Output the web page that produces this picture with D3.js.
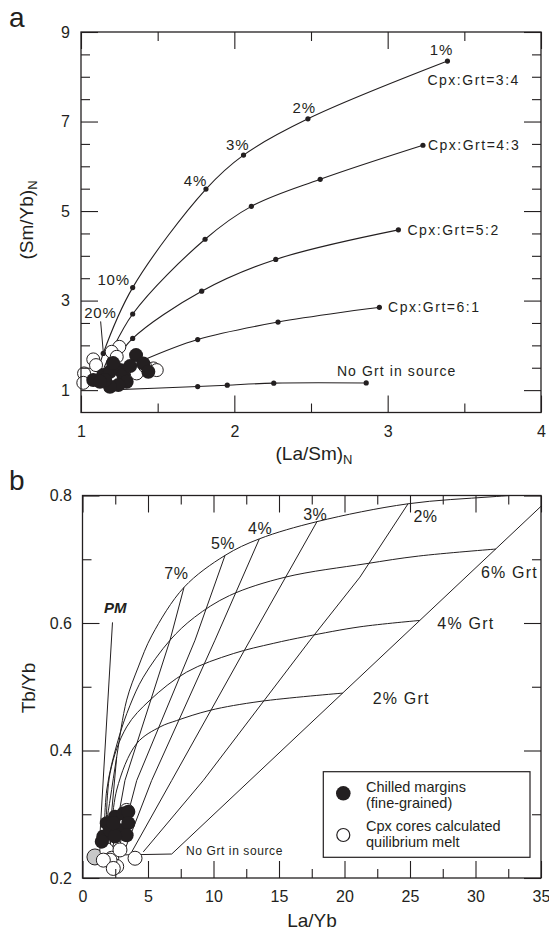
<!DOCTYPE html>
<html><head><meta charset="utf-8">
<script src="https://cdn.jsdelivr.net/npm/d3@7/dist/d3.min.js"></script>
<style>html,body{margin:0;padding:0;background:#fff;}svg{display:block;}</style>
</head><body>
<script>
// ===== Panel a: (La/Sm)N vs (Sm/Yb)N =====
const aXTicks = [1, 2, 3, 4];
const aXMinor = [1.5, 2.5, 3.5];
const aYTicks = [1, 3, 5, 7, 9];
const aYMinor = [1.5, 2, 2.5, 3.5, 4, 4.5, 5.5, 6, 6.5, 7.5, 8, 8.5];
const aCurveNames = ["Cpx:Grt=3:4", "Cpx:Grt=4:3", "Cpx:Grt=5:2", "Cpx:Grt=6:1", "No Grt in source"];
const aMeltLabels = ["20%", "10%", "4%", "3%", "2%", "1%"];
// hidden start of each model curve (inside the sample cluster)
const aStarts = [[1.11, 1.40], [1.15, 1.50], [1.22, 1.62], [1.40, 1.66], [1.15, 1.00]];
const aCpx34 = [[1.145, 1.82], [1.337, 3.29], [1.815, 5.49], [2.06, 6.25], [2.48, 7.06], [3.39, 8.35]];
const aCpx43 = [[1.337, 2.70], [1.809, 4.37], [2.111, 5.105], [2.56, 5.71], [3.23, 6.47]];
const aCpx52 = [[1.337, 2.155], [1.787, 3.21], [2.27, 3.92], [3.07, 4.58]];
const aCpx61 = [[1.761, 2.13], [2.285, 2.52], [2.946, 2.85]];
const aNoGrt = [[1.761, 1.08], [1.954, 1.11], [2.257, 1.156], [2.86, 1.16]];
const aOpen = [[1.020, 1.373], [1.015, 1.163], [1.080, 1.686], [1.098, 1.559], [1.250, 1.967], [1.200, 1.856],
  [1.233, 1.744], [1.363, 1.373], [1.472, 1.485], [1.494, 1.447], [1.417, 1.536]];
const aFilled = [[1.359, 1.782], [1.406, 1.597], [1.439, 1.409], [1.080, 1.224], [1.145, 1.335], [1.189, 1.409],
  [1.254, 1.447], [1.276, 1.335], [1.298, 1.185], [1.243, 1.112], [1.189, 1.074], [1.157, 1.224], [1.124, 1.185],
  [1.209, 1.604], [1.320, 1.536]];

// ===== Panel b: La/Yb vs Tb/Yb =====
const bXTicks = [0, 5, 10, 15, 20, 25, 30, 35];
const bXMinor = [2.5, 7.5, 12.5, 17.5, 22.5, 27.5, 32.5];
const bYTicks = [0.2, 0.4, 0.6, 0.8];
const bYMinor = [0.3, 0.5, 0.7];
const bGrtLabels = ["6% Grt", "4% Grt", "2% Grt"];
const bMeltLabels = ["7%", "5%", "4%", "3%", "2%"];
const bEnvelope = [[1.49, 0.244], [2.10, 0.322], [2.61, 0.390], [3.37, 0.479], [4.26, 0.531], [5.31, 0.581], [7.75, 0.656],
  [10.88, 0.706], [13.50, 0.732], [17.90, 0.759], [24.85, 0.787], [31.26, 0.798], [36.45, 0.805]];
const bGrt6 = [[1.64, 0.244], [1.85, 0.338], [2.71, 0.416], [3.63, 0.471], [4.64, 0.515], [6.68, 0.573], [8.55, 0.609],
  [11.22, 0.643], [15.50, 0.672], [21.64, 0.693], [25.65, 0.705], [31.56, 0.716]];
const bGrt4 = [[1.79, 0.241], [2.10, 0.364], [3.37, 0.437], [5.15, 0.479], [7.95, 0.523], [11.51, 0.552], [14.56, 0.568],
  [17.10, 0.579], [21.18, 0.594], [25.75, 0.604]];
const bGrt2 = [[2.10, 0.241], [2.61, 0.338], [4.14, 0.411], [5.92, 0.437], [7.19, 0.447], [9.73, 0.463], [13.55, 0.477], [19.86, 0.490]];
const bNoGrt = [[2.48, 0.236], [6.81, 0.2376]];
const bF1 = [[6.81, 0.2376], [35.05, 0.784], [36.45, 0.811]];
const bF2 = [[4.64, 0.241], [9.22, 0.353], [17.37, 0.573], [21.18, 0.672], [24.85, 0.787]];
const bF3 = [[3.76, 0.241], [6.81, 0.353], [12.79, 0.573], [17.90, 0.759]];
const bF4 = [[3.17, 0.241], [5.28, 0.353], [10.11, 0.573], [13.50, 0.732]];
const bF5 = [[2.71, 0.241], [4.14, 0.353], [8.59, 0.573], [10.88, 0.706]];
const bF7 = [[2.25, 0.241], [3.24, 0.353], [6.68, 0.573], [7.75, 0.656]];
const bF10 = [[1.95, 0.241], [2.61, 0.390]];
const bPM = [[2.29, 0.601], [1.30, 0.256]];
const bFilled = [[1.59, 0.265], [1.85, 0.286], [2.48, 0.296], [3.11, 0.301], [3.50, 0.304], [2.10, 0.275], [2.86, 0.275],
  [3.50, 0.286], [3.37, 0.267], [2.48, 0.265], [1.47, 0.257], [2.35, 0.286]];
const bOpenBack = [[3.37, 0.306]];
const bOpen = [[1.85, 0.244], [2.23, 0.231], [2.61, 0.218], [2.10, 0.228], [2.86, 0.244], [4.01, 0.231], [1.59, 0.228], [2.35, 0.215]];
const bGray = [[0.95, 0.233]];
const legendLabels = [["Chilled margins", "(fine-grained)"], ["Cpx cores calculated", "quilibrium melt"]];

// ===== rendering =====
const ink = "#231f20";
const FF = "'Liberation Sans', Arial, Helvetica, sans-serif";
const svg = d3.select("body").append("svg").attr("width", 549).attr("height", 937)
  .style("font-family", FF);

const xA = d3.scaleLinear().domain([1, 4]).range([81, 541]);
const yA = d3.scaleLinear().domain([0.5, 9]).range([412.5, 32]);
const xB = d3.scaleLinear().domain([0, 35]).range([82.5, 541]);
const yB = d3.scaleLinear().domain([0.2, 0.8]).range([878, 495.5]);

function drawFrame(x, y, xMaj, xMin, yMaj, yMin, xFmt, yFmt, xPad, yPad) {
  const [L, R] = x.range(), [B, T] = y.range();
  const g = svg.append("g");
  const none = () => "";
  const st = sel => {
    sel.select(".domain").remove();
    sel.attr("font-size", 16).attr("font-family", FF).attr("color", ink);
    sel.selectAll("line").attr("stroke-width", 1.1);
  };
  g.append("g").attr("transform", `translate(0,${B})`)
    .call(d3.axisBottom(x).tickValues(xMaj).tickFormat(xFmt).tickSizeInner(-17).tickSizeOuter(0).tickPadding(xPad)).call(st);
  g.append("g").attr("transform", `translate(0,${B})`)
    .call(d3.axisBottom(x).tickValues(xMin).tickFormat(none).tickSizeInner(-9).tickSizeOuter(0)).call(st);
  g.append("g").attr("transform", `translate(0,${T})`)
    .call(d3.axisTop(x).tickValues(xMaj).tickFormat(none).tickSizeInner(-17).tickSizeOuter(0)).call(st);
  g.append("g").attr("transform", `translate(0,${T})`)
    .call(d3.axisTop(x).tickValues(xMin).tickFormat(none).tickSizeInner(-9).tickSizeOuter(0)).call(st);
  g.append("g").attr("transform", `translate(${L},0)`)
    .call(d3.axisLeft(y).tickValues(yMaj).tickFormat(yFmt).tickSizeInner(-17).tickSizeOuter(0).tickPadding(yPad)).call(st);
  g.append("g").attr("transform", `translate(${L},0)`)
    .call(d3.axisLeft(y).tickValues(yMin).tickFormat(none).tickSizeInner(-9).tickSizeOuter(0)).call(st);
  g.append("g").attr("transform", `translate(${R},0)`)
    .call(d3.axisRight(y).tickValues(yMaj).tickFormat(none).tickSizeInner(-17).tickSizeOuter(0)).call(st);
  g.append("g").attr("transform", `translate(${R},0)`)
    .call(d3.axisRight(y).tickValues(yMin).tickFormat(none).tickSizeInner(-9).tickSizeOuter(0)).call(st);
  g.append("rect").attr("x", L).attr("y", T).attr("width", R - L).attr("height", B - T)
    .attr("fill", "none").attr("stroke", ink).attr("stroke-width", 1.3);
}

function label(x, y, s, size, opts = {}) {
  const t = svg.append("text").attr("x", x).attr("y", y).attr("font-size", size).attr("fill", ink)
    .attr("text-anchor", opts.anchor || "start").text(s);
  if (opts.ls) t.attr("letter-spacing", opts.ls);
  if (opts.weight) t.attr("font-weight", opts.weight);
  if (opts.style) t.attr("font-style", opts.style);
  return t;
}

// ---------- Panel a ----------
const lineA = d3.line().x(d => xA(d[0])).y(d => yA(d[1])).curve(d3.curveCatmullRom.alpha(0.5));
const aModels = [aCpx34, aCpx43, aCpx52, aCpx61, aNoGrt];
const gA = svg.append("g");
aModels.forEach((pts, i) => {
  gA.append("path").attr("d", lineA([aStarts[i], ...pts])).attr("fill", "none").attr("stroke", ink).attr("stroke-width", 1.1);
  gA.selectAll(null).data(pts).join("circle").attr("cx", d => xA(d[0])).attr("cy", d => yA(d[1])).attr("r", 2.6).attr("fill", ink);
});
// samples
gA.selectAll(null).data(aOpen).join("circle").attr("cx", d => xA(d[0])).attr("cy", d => yA(d[1])).attr("r", 6.5)
  .attr("fill", "#fff").attr("stroke", ink).attr("stroke-width", 1);
gA.selectAll(null).data(aFilled).join("circle").attr("cx", d => xA(d[0])).attr("cy", d => yA(d[1])).attr("r", 7)
  .attr("fill", ink);

drawFrame(xA, yA, aXTicks, aXMinor, aYTicks, aYMinor, d3.format("d"), d3.format("d"), 13.5, 11);

// melt labels on Cpx:Grt=3:4 curve
const aMeltOff = [[-2.8, -35], [-19, -2.5], [-10.5, -3.6], [-5.8, -4.9], [-3.7, -6.3], [-6, -5.6]];
aCpx34.forEach((p, i) => label(xA(p[0]) + aMeltOff[i][0], yA(p[1]) + aMeltOff[i][1], aMeltLabels[i], 15, { anchor: "middle", ls: 0.8 }));
// 20% leader
svg.append("line").attr("x1", xA(aCpx34[0][0]) - 2.6).attr("y1", yA(aCpx34[0][1]) - 32)
  .attr("x2", xA(aCpx34[0][0])).attr("y2", yA(aCpx34[0][1]) - 2).attr("stroke", ink).attr("stroke-width", 1);
// curve labels
const aNameOff = [[-20, 24], [5, 5], [9, 4.7], [8.7, 4.7], [-29.3, -6.7]];
aModels.forEach((pts, i) => {
  const p = pts[pts.length - 1];
  label(xA(p[0]) + aNameOff[i][0], yA(p[1]) + aNameOff[i][1], aCurveNames[i], 14, { ls: i === 4 ? 1.1 : 1.5 });
});

// axis titles a
const tA = svg.append("text").attr("x", 314).attr("y", 460).attr("text-anchor", "middle").attr("font-size", 19).attr("fill", ink);
tA.append("tspan").text("(La/Sm)");
tA.append("tspan").attr("font-size", 13).attr("dy", 4).text("N");
const tAy = svg.append("text").attr("transform", "translate(33,220) rotate(-90)").attr("text-anchor", "middle").attr("font-size", 19).attr("fill", ink);
tAy.append("tspan").text("(Sm/Yb)");
tAy.append("tspan").attr("font-size", 13).attr("dy", 4).text("N");
label(9, 27, "a", 28);

// ---------- Panel b ----------
svg.append("clipPath").attr("id", "clipB").append("rect")
  .attr("x", xB.range()[0]).attr("y", yB.range()[1]).attr("width", xB.range()[1] - xB.range()[0]).attr("height", yB.range()[0] - yB.range()[1]);
const gB = svg.append("g").attr("clip-path", "url(#clipB)");
const lineBs = d3.line().x(d => xB(d[0])).y(d => yB(d[1])).curve(d3.curveCatmullRom.alpha(0.5));
const lineBl = d3.line().x(d => xB(d[0])).y(d => yB(d[1]));
[bEnvelope, bGrt6, bGrt4, bGrt2].forEach(pts => gB.append("path").attr("d", lineBs(pts)).attr("fill", "none").attr("stroke", ink).attr("stroke-width", 1));
[bNoGrt, bF1, bF2, bF3, bF4, bF5, bF7, bF10, bPM].forEach(pts => gB.append("path").attr("d", lineBl(pts)).attr("fill", "none").attr("stroke", ink).attr("stroke-width", 1));

gB.selectAll(null).data(bGray).join("circle").attr("cx", d => xB(d[0])).attr("cy", d => yB(d[1])).attr("r", 8)
  .attr("fill", "#c8c8c8").attr("stroke", ink).attr("stroke-width", 1);
gB.selectAll(null).data(bOpenBack).join("circle").attr("cx", d => xB(d[0])).attr("cy", d => yB(d[1])).attr("r", 7)
  .attr("fill", "#fff").attr("stroke", ink).attr("stroke-width", 1);
gB.selectAll(null).data(bOpen).join("circle").attr("cx", d => xB(d[0])).attr("cy", d => yB(d[1])).attr("r", 7)
  .attr("fill", "#fff").attr("stroke", ink).attr("stroke-width", 1);
gB.selectAll(null).data(bFilled).join("circle").attr("cx", d => xB(d[0])).attr("cy", d => yB(d[1])).attr("r", 7)
  .attr("fill", ink);

drawFrame(xB, yB, bXTicks, bXMinor, bYTicks, bYMinor, d3.format("d"), d3.format(".1f"), 13, 10.5);

// melt labels at top of F lines
const bTops = [bF7, bF5, bF4, bF3, bF2].map(a => a[a.length - 1]);
const bMeltOff = [[-7.7, -7.9], [-2, -6.2], [0.7, -4.5], [-1.7, -1.2], [17.5, 18.2]];
bTops.forEach((p, i) => label(xB(p[0]) + bMeltOff[i][0], yB(p[1]) + bMeltOff[i][1], bMeltLabels[i], 16, { anchor: "middle", ls: 0.5 }));
// Grt labels beside end of Grt curves
const bGrtEnds = [bGrt6, bGrt4, bGrt2].map(a => a[a.length - 1]);
const bGrtOff = [[-15, 29], [17.5, 8.5], [30, 11.3]];
bGrtEnds.forEach((p, i) => label(xB(p[0]) + bGrtOff[i][0], yB(p[1]) + bGrtOff[i][1], bGrtLabels[i], 16, { ls: 1.2 }));
label(xB(bPM[0][0]) + 2.7, yB(bPM[0][1]) - 9.7, "PM", 15, { anchor: "middle", weight: "bold", style: "italic" });
label(xB(bNoGrt[1][0]) + 14.3, yB(bNoGrt[1][1]) + 1, "No Grt in source", 12, { ls: 0.6 });

// legend
const lg = svg.append("g");
lg.append("rect").attr("x", 323.3).attr("y", 771.7).attr("width", 206.7).attr("height", 85.6)
  .attr("fill", "#fff").attr("stroke", ink).attr("stroke-width", 1.2);
lg.append("circle").attr("cx", 343.3).attr("cy", 793.3).attr("r", 7.3).attr("fill", ink);
lg.append("circle").attr("cx", 343.3).attr("cy", 835).attr("r", 6.5).attr("fill", "#fff").attr("stroke", ink).attr("stroke-width", 1.2);
[[791.5, 808.3], [831, 846.5]].forEach((ys, i) => {
  label(366, ys[0], legendLabels[i][0], 14.5);
  label(366, ys[1], legendLabels[i][1], 14.5);
});

// axis titles b
svg.append("text").attr("x", 312).attr("y", 927).attr("text-anchor", "middle").attr("font-size", 19).attr("fill", ink).text("La/Yb");
svg.append("text").attr("transform", "translate(35,688) rotate(-90)").attr("text-anchor", "middle").attr("font-size", 19).attr("fill", ink).text("Tb/Yb");
label(9, 490, "b", 28);
</script>
</body></html>
